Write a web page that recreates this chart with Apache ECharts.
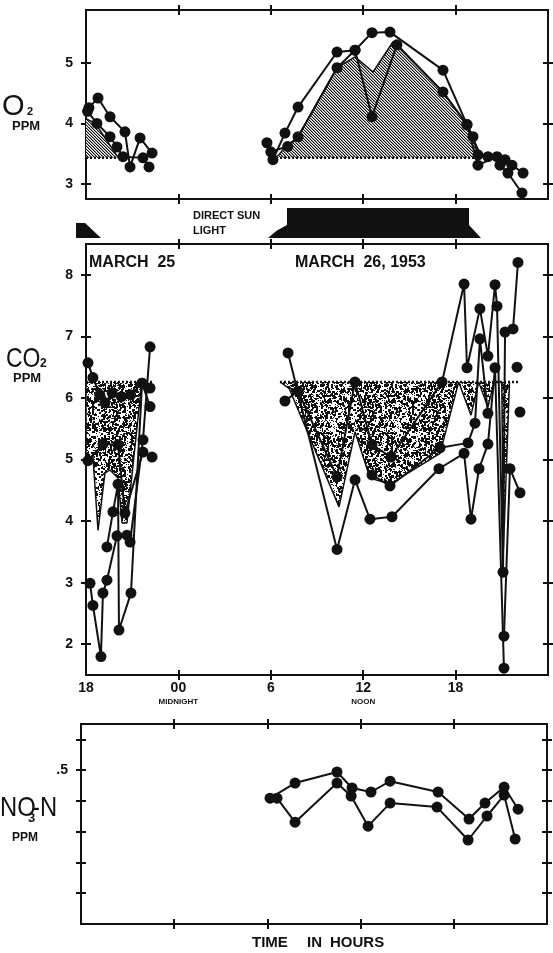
<!DOCTYPE html>
<html>
<head>
<meta charset="utf-8">
<title>O2, CO2 and NO3-N, March 25-26, 1953</title>
<script src="https://cdn.jsdelivr.net/npm/echarts@6/dist/echarts.min.js"></script>
<style>
  html, body { margin: 0; padding: 0; background: #fff; }
  #chart { width: 553px; height: 953px; }
</style>
</head>
<body>
<div id="chart"></div>
<script>
// ---- time axis (hours counted from midnight of March 25) ----
const hourMin = 18;
const hourMax = 48;
const hourTicks = [24, 30, 36, 42];
const hourLabelValues = [18, 24, 30, 36, 42];
const hourLabelText = ['18', '00', '6', '12', '18'];
const hourSubText = ['', 'MIDNIGHT', '', 'NOON', ''];

// ---- oxygen, ppm ----
const o2Ticks = [3, 4, 5];
const o2Base = 3.43;
const o2ShadeNight = [[18.0, 4.08], [18.6, 4.0], [19.4, 3.7], [20.1, 3.43]];
const o2ShadeDay = [[30.34, 3.43], [30.92, 3.6], [31.77, 3.78], [34.30, 4.92], [35.47, 5.1], [36.64, 4.85],
  [37.94, 5.35], [41.18, 4.52], [42.74, 3.98], [43.71, 3.43]];
const o2Night1 = [[18.19, 4.26], [18.78, 4.42], [19.56, 4.11], [20.53, 3.86], [20.86, 3.28], [21.51, 3.76], [22.29, 3.51]];
const o2Night2 = [[18.10, 4.20], [18.71, 4.00], [19.56, 3.78], [20.01, 3.61], [20.40, 3.45], [21.70, 3.43], [22.09, 3.28]];
const o2Day1 = [[30.14, 3.40], [30.92, 3.84], [31.77, 4.27], [34.30, 5.18], [35.47, 5.21], [36.57, 5.50], [37.74, 5.51],
  [41.18, 4.88], [42.74, 3.98], [43.13, 3.78], [43.45, 3.48], [44.10, 3.45], [45.21, 3.40], [45.66, 3.31], [46.38, 3.18]];
const o2Day2 = [[29.75, 3.68], [30.00, 3.53], [31.10, 3.62], [31.77, 3.78], [34.30, 4.92], [35.47, 5.21], [36.57, 4.11],
  [38.19, 5.30], [41.18, 4.52], [42.74, 3.98], [43.45, 3.31], [44.69, 3.45], [44.88, 3.31], [45.40, 3.18], [46.31, 2.85]];

// ---- carbon dioxide, ppm ----
const co2Ticks = [2, 3, 4, 5, 6, 7, 8];
const co2Ceiling = 6.26;
const co2CeilingSpans = [[18.0, 22.3], [30.6, 46.1]];
const co2ShadeNight = [[18.0, 6.26], [18.0, 5.05], [18.45, 5.05], [18.78, 3.85], [19.23, 4.78], [19.56, 4.83],
  [20.08, 4.7], [20.34, 3.97], [20.66, 3.97], [21.5, 5.97], [21.6, 6.26]];
const co2ShadeDay = [[30.6, 6.26], [31.2, 6.15], [34.43, 4.23], [35.47, 5.45], [36.44, 4.70], [37.74, 4.60],
  [40.99, 5.10], [42.2, 6.26], [43.0, 5.72], [43.5, 6.26], [44.1, 5.85], [44.5, 6.26], [45.0, 6.26],
  [45.1, 3.5], [45.5, 6.26]];
const co2NightA = [[18.26, 2.99], [18.45, 2.63], [18.97, 1.80], [19.10, 2.83], [19.36, 3.04], [20.01, 3.76],
  [20.66, 3.77], [20.86, 3.66], [21.70, 5.32], [22.16, 6.83]];
const co2NightB = [[19.36, 3.58], [19.75, 4.15], [20.08, 4.6], [20.14, 2.23], [20.92, 2.83], [21.64, 6.24], [22.16, 6.16]];
const co2NightC = [[18.13, 6.57], [18.45, 6.33], [18.9, 6.05], [19.23, 5.92], [19.7, 6.08], [20.3, 6.02],
  [20.9, 6.05], [21.64, 6.24], [22.16, 5.86]];
const co2NightD = [[18.13, 4.98], [19.10, 5.25], [20.08, 5.24], [20.53, 4.13], [21.70, 5.12], [22.29, 5.04]];
const co2DayA = [[31.12, 6.73], [34.30, 3.54], [35.47, 4.67], [36.44, 4.03], [37.87, 4.07], [40.92, 4.85],
  [42.55, 5.10], [43.00, 4.03], [43.52, 4.85], [44.10, 5.25], [44.56, 6.49], [45.14, 1.61]];
const co2DayB = [[30.92, 5.95], [31.77, 6.11], [34.30, 4.72], [35.47, 6.26], [36.57, 5.24], [37.81, 5.04],
  [41.12, 6.26], [42.55, 7.85], [42.74, 6.49], [43.58, 7.45], [44.10, 6.68], [44.56, 7.84], [44.69, 7.49],
  [45.08, 3.17], [45.21, 7.07], [45.73, 7.12], [46.05, 8.20]];
const co2DayC = [[36.57, 4.75], [37.74, 4.57], [40.99, 5.19], [42.81, 5.27], [43.26, 5.59], [43.58, 6.96], [44.10, 5.75]];
const co2DayD = [[45.14, 2.13], [45.53, 4.85], [46.18, 4.46]];
const co2Loose = [[45.99, 6.50], [46.18, 5.77]];

// ---- nitrate nitrogen, ppm ----
const no3Ticks = [0.1, 0.2, 0.3, 0.4, 0.5, 0.6];
const no3Labels = [0.5];
const no3Upper = [[30.17, 0.409], [31.78, 0.458], [34.48, 0.494], [35.45, 0.442], [36.67, 0.429], [37.90, 0.464],
  [40.99, 0.429], [42.98, 0.341], [44.01, 0.393], [45.24, 0.445], [46.14, 0.373]];
const no3Lower = [[30.62, 0.409], [31.78, 0.331], [34.48, 0.458], [35.39, 0.416], [36.48, 0.318], [37.90, 0.393],
  [40.92, 0.380], [42.92, 0.273], [44.14, 0.351], [45.24, 0.419], [45.95, 0.276]];

// ---- direct sunlight: [bottom start, top start, top end, bottom end] in hours ----
const sunBlocks = [[17.35, 17.35, 17.94, 18.97], [29.82, 31.05, 42.87, 43.65]];

// ---------------------------------------------------------------
const INK = '#111';
const FONT = '"Liberation Sans", Arial, sans-serif';

// diagonal hatching for the oxygen surplus
function hatchPattern() {
  const c = document.createElement('canvas');
  c.width = 3; c.height = 3;
  const g = c.getContext('2d');
  g.fillStyle = '#fff'; g.fillRect(0, 0, 3, 3);
  for (let i = 0; i < 3; i++) {
    g.fillStyle = '#111'; g.fillRect(i, i, 1, 1);
    g.fillStyle = '#999'; g.fillRect((i + 1) % 3, i, 1, 1);
  }
  return c;
}
// stippling for the carbon dioxide deficit (fixed, repeatable dot layout)
function stipplePattern() {
  const n = 64;
  const c = document.createElement('canvas');
  c.width = n; c.height = n;
  const g = c.getContext('2d');
  g.fillStyle = '#fff'; g.fillRect(0, 0, n, n);
  g.fillStyle = '#111';
  let s = 12345;
  const next = () => { s = (s * 1103515245 + 12345) % 2147483648; return s / 2147483648; };
  for (let i = 0; i < 1500; i++) {
    const x = Math.floor(next() * n), y = Math.floor(next() * n);
    const w = next() < 0.35 ? 2 : 1;
    g.fillRect(x, y, w, w);
  }
  return c;
}
const hatch = { image: hatchPattern(), repeat: 'repeat' };
const stipple = { image: stipplePattern(), repeat: 'repeat' };

const grids = [
  { left: 86, top: 10, width: 462, height: 189 },   // O2
  { left: 86, top: 244, width: 462, height: 431 },  // CO2
  { left: 81, top: 724, width: 466, height: 200 },  // NO3-N
  { left: 86, top: 205, width: 462, height: 33 }    // sunlight band
];

const lineAxis = { show: true, onZero: false, lineStyle: { color: INK, width: 2 } };
function tickStyle(values, inside) {
  return { show: true, inside, length: 5, customValues: values, lineStyle: { color: INK, width: 2 } };
}

const xAxes = [];
const yAxes = [];
const yRanges = [[2.75, 5.875, o2Ticks], [1.5, 8.5, co2Ticks], [0, 0.65, no3Ticks]];
yRanges.forEach(([mn, mx, ticks], gi) => {
  ['bottom', 'top'].forEach(pos => [false, true].forEach(inside => {
    const labelled = gi === 1 && pos === 'bottom' && !inside;
    xAxes.push({
      type: 'value', gridIndex: gi, min: hourMin, max: hourMax, position: pos,
      splitLine: { show: false }, axisLine: lineAxis, axisTick: tickStyle(hourTicks, inside),
      axisLabel: labelled ? {
        show: true, customValues: hourLabelValues, margin: 6,
        formatter: v => {
          const i = hourLabelValues.indexOf(v);
          return hourSubText[i] ? hourLabelText[i] + '\n{s|' + hourSubText[i] + '}' : hourLabelText[i];
        },
        color: INK, fontFamily: FONT, fontWeight: 'bold', fontSize: 14, lineHeight: 15,
        rich: { s: { fontSize: 8, fontWeight: 'bold', fontFamily: FONT, color: INK, lineHeight: 12 } }
      } : { show: false }
    });
  }));
  ['left', 'right'].forEach(pos => [false, true].forEach(inside => {
    const labelled = pos === 'left' && !inside;
    yAxes.push({
      type: 'value', gridIndex: gi, min: mn, max: mx, position: pos,
      splitLine: { show: false }, axisLine: lineAxis, axisTick: tickStyle(ticks, inside),
      axisLabel: labelled ? {
        show: true, customValues: gi === 2 ? no3Labels : ticks, margin: 13,
        formatter: v => gi === 2 ? '.' + Math.round(v * 10) : String(v),
        color: INK, fontFamily: FONT, fontWeight: 'bold', fontSize: 14
      } : { show: false }
    });
  }));
});
// hidden axes for the sunlight band
xAxes.push({ type: 'value', gridIndex: 3, min: hourMin, max: hourMax, show: false });
yAxes.push({ type: 'value', gridIndex: 3, min: 0, max: 1, show: false });

function dotLine(gi, data) {
  return {
    type: 'line', xAxisIndex: gi * 4, yAxisIndex: gi * 4, data,
    symbol: 'circle', symbolSize: 11, showSymbol: true,
    itemStyle: { color: INK, opacity: 1 }, lineStyle: { color: INK, width: 2 }, z: 5, silent: true
  };
}
function shade(gi, data, origin, fill) {
  return {
    type: 'line', xAxisIndex: gi * 4, yAxisIndex: gi * 4, data, symbol: 'none',
    lineStyle: { color: INK, width: 1.5 },
    areaStyle: { origin, color: fill, opacity: 1 }, z: 2, silent: true
  };
}
function dotted(gi, x0, x1, y) {
  return {
    type: 'line', xAxisIndex: gi * 4, yAxisIndex: gi * 4, data: [[x0, y], [x1, y]], symbol: 'none',
    lineStyle: { color: INK, width: 2.5, type: [2, 2] }, z: 3, silent: true
  };
}

// heights of the sunlight shapes in pixels (evening tail, full day)
const sunTop = [15, 30];
const sunShoulder = [15, 13];

const series = [
  shade(0, o2ShadeNight, o2Base, hatch),
  shade(0, o2ShadeDay, o2Base, hatch),
  dotted(0, 18.0, 20.1, o2Base),
  dotted(0, 30.34, 43.71, o2Base),
  dotLine(0, o2Night1), dotLine(0, o2Night2), dotLine(0, o2Day1), dotLine(0, o2Day2),

  shade(1, co2ShadeNight, co2Ceiling, stipple),
  shade(1, co2ShadeDay, co2Ceiling, stipple),
  ...co2CeilingSpans.map(([a, b]) => dotted(1, a, b, co2Ceiling)),
  dotLine(1, co2NightA), dotLine(1, co2NightB), dotLine(1, co2NightC), dotLine(1, co2NightD),
  dotLine(1, co2DayA), dotLine(1, co2DayB), dotLine(1, co2DayC), dotLine(1, co2DayD),
  { type: 'scatter', xAxisIndex: 4, yAxisIndex: 4, data: co2Loose, symbolSize: 11,
    itemStyle: { color: INK, opacity: 1 }, z: 5, silent: true },

  dotLine(2, no3Upper), dotLine(2, no3Lower),

  {
    type: 'custom', xAxisIndex: 12, yAxisIndex: 12, data: sunBlocks, clip: false, silent: true,
    renderItem(params, api) {
      const i = params.dataIndex;
      const bs = api.coord([api.value(0), 0]);
      const ts = api.coord([api.value(1), 0]);
      const te = api.coord([api.value(2), 0]);
      const be = api.coord([api.value(3), 0]);
      const yb = bs[1];
      const yt = yb - sunTop[i];
      const ys = yb - sunShoulder[i];
      const pts = [
        [bs[0], yb],
        [bs[0] + (ts[0] - bs[0]) * 0.45, yb - (yb - ys) * 0.55],
        [ts[0], ys], [ts[0], yt], [te[0], yt], [te[0], ys], [be[0], yb]
      ];
      return { type: 'polygon', shape: { points: pts }, style: { fill: INK } };
    }
  }
];

function txt(x, y, text, size, weight, sx) {
  return {
    type: 'text', x, y, silent: true, scaleX: sx || 1,
    style: { text, fill: INK, font: `${weight} ${size}px ${FONT}`, textAlign: 'left', textVerticalAlign: 'top' }
  };
}

const graphic = [
  txt(2, 92, 'O', 29, 'normal'), txt(27, 106, '2', 11, 'bold'), txt(12, 120, 'PPM', 13, 'bold'),
  txt(6, 345, 'CO', 28, 'normal', 0.82), txt(40, 358, '2', 12, 'bold'), txt(13, 372, 'PPM', 13, 'bold'),
  txt(0, 794, 'NO', 28, 'normal', 0.85), txt(28, 812, '3', 13, 'bold'),
  txt(32, 794, '-', 28, 'normal', 0.85), txt(40, 794, 'N', 28, 'normal', 0.85),
  txt(12, 832, 'PPM', 12, 'bold'),
  txt(89, 255, 'MARCH  25', 16, 'bold'),
  txt(295, 255, 'MARCH  26, 1953', 16, 'bold'),
  txt(193, 210, 'DIRECT SUN', 11, 'bold'), txt(193, 225, 'LIGHT', 11, 'bold'),
  txt(252, 935, 'TIME', 15, 'bold'), txt(307, 935, 'IN', 15, 'bold'), txt(330, 935, 'HOURS', 15, 'bold')
];

const chart = echarts.init(document.getElementById('chart'), null, { renderer: 'canvas' });
chart.setOption({
  animation: false,
  backgroundColor: '#fff',
  grid: grids.map(g => ({ ...g, containLabel: false })),
  xAxis: xAxes,
  yAxis: yAxes,
  series,
  graphic
});
</script>
</body>
</html>
